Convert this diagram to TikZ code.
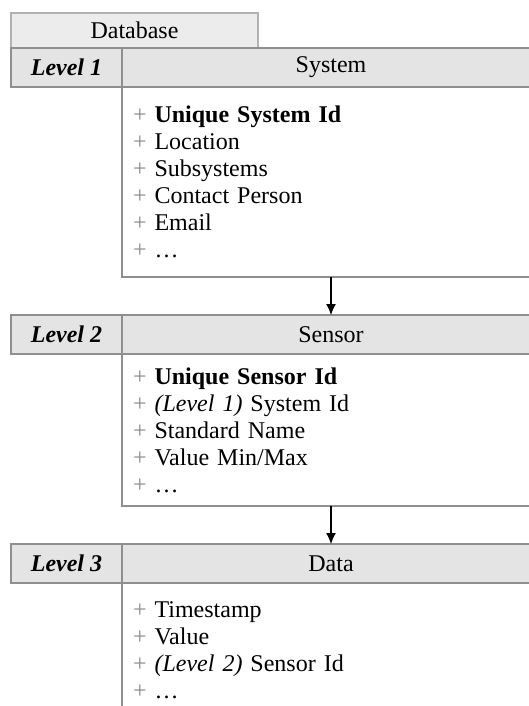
\documentclass[tikz,border=0pt]{standalone}
\usepackage{fontspec}
\setmainfont{Liberation Serif}
\usetikzlibrary{shapes,arrows,arrows.meta,positioning}
\definecolor{rulegray}{HTML}{8F8F8F}
\definecolor{headfill}{HTML}{E4E4E4}
\definecolor{plusgray}{HTML}{8A8A8A}
\newcommand{\diagfont}{\fontsize{24}{27}\selectfont}
\newcommand{\attr}[1]{\textcolor{plusgray}{+} #1}
\tikzstyle{tab} = [rectangle, draw=rulegray!70, line width=1.5pt, fill=headfill!70,
    minimum width=247pt, minimum height=35pt, inner sep=0pt, outer sep=0pt, font=\diagfont]
\tikzstyle{level} = [rectangle, draw=rulegray, line width=2.5pt, fill=headfill,
    minimum width=111pt, minimum height=39pt, inner sep=0pt, outer sep=0pt,
    font=\diagfont\bfseries\itshape]
\tikzstyle{header} = [rectangle, draw=rulegray, line width=2.5pt, fill=headfill,
    minimum width=418pt, minimum height=39pt, inner sep=0pt, outer sep=0pt, font=\diagfont]
\tikzstyle{body} = [rectangle, draw=rulegray, line width=2pt, text width=396pt,
    inner xsep=11pt, inner ysep=0pt, outer sep=0pt, align=left, font=\diagfont]
\tikzstyle{link} = [draw, line width=1.2pt, -{Latex[length=11pt,width=10pt]}]

\begin{document}
\begin{tikzpicture}[x=1pt, y=1pt]
    \useasboundingbox (0,0) rectangle (529,-706);
    \clip (0,0) rectangle (529,-706);

    \node[tab, anchor=north west] (database) at (11,-13) {Database};

    \node[level, anchor=north west] (levelOne) at (database.south west) {Level 1};
    \node[header, right=0pt of levelOne] (system) {System};
    \node[body, below=0pt of system, minimum height=190pt] (systemAttr)
        {\attr{\textbf{Unique System Id}}\\ \attr{Location}\\ \attr{Subsystems}\\
         \attr{Contact Person}\\ \attr{Email}\\ \attr{\ldots}};

    \node[header, below=38pt of systemAttr] (sensor) {Sensor};
    \node[level, left=0pt of sensor] (levelTwo) {Level 2};
    \node[body, below=0pt of sensor, minimum height=152pt] (sensorAttr)
        {\attr{\textbf{Unique Sensor Id}}\\ \attr{\textit{(Level 1)} System Id}\\
         \attr{Standard Name}\\ \attr{Value Min/Max}\\ \attr{\ldots}};

    \node[header, below=38pt of sensorAttr] (data) {Data};
    \node[level, left=0pt of data] (levelThree) {Level 3};
    \node[body, below=0pt of data, minimum height=134pt] (dataAttr)
        {\attr{Timestamp}\\ \attr{Value}\\ \attr{\textit{(Level 2)} Sensor Id}\\ \attr{\ldots}};

    \path[link] (systemAttr) -- (sensor);
    \path[link] (sensorAttr) -- (data);
\end{tikzpicture}
\end{document}
